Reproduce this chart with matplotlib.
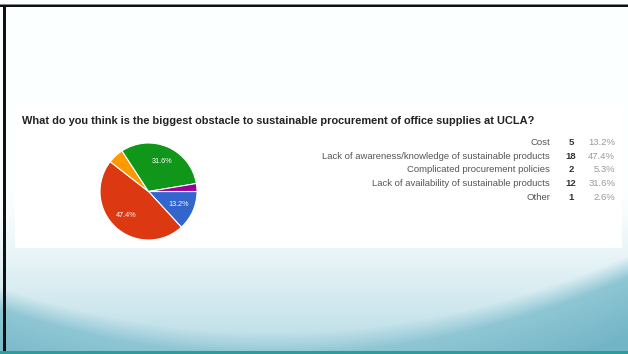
import numpy as np
import matplotlib
matplotlib.use("Agg")
import matplotlib.pyplot as plt
from matplotlib.patches import Rectangle

# ---------------- data ----------------
TITLE = "What do you think is the biggest obstacle to sustainable procurement of office supplies at UCLA?"
categories = [
    "Cost",
    "Lack of awareness/knowledge of sustainable products",
    "Complicated procurement policies",
    "Lack of availability of sustainable products",
    "Other",
]
counts = [5, 18, 2, 12, 1]
percent_labels = ["13.2%", "47.4%", "5.3%", "31.6%", "2.6%"]
colors = ["#3366cc", "#dc3912", "#ff9900", "#109618", "#990099"]

W, H = 628, 354
DPI = 100


def fx(px):
    return px / W


def fy(py):
    return 1 - py / H


fig = plt.figure(figsize=(W / DPI, H / DPI), dpi=DPI)

# ---------------- slide background ----------------
bg = fig.add_axes([0, 0, 1, 1])
bg.set_axis_off()
xx, yy = np.meshgrid(np.arange(W), np.arange(H))

top = np.array([0.992, 1.0, 1.0])
light = np.array([0.70, 0.85, 0.89])
dark_a = np.array([0.58, 0.79, 0.84])
dark_b = np.array([0.45, 0.71, 0.78])

# light part: white at the top, bluish towards the bottom
t = np.clip((yy - 190) / 170.0, 0, 1) ** 1.3
img = top * (1 - t[..., None]) + light * t[..., None]

# darker wave at the bottom
yb = 298 + 0.331 * xx - 6.08e-4 * xx ** 2
m = np.clip((yy - yb) / 22.0 + 0.5, 0, 1)
d = np.clip((yy - yb) / 70.0, 0, 1)
dark = dark_a * (1 - d[..., None]) + dark_b * d[..., None]
img = img * (1 - m[..., None]) + dark * m[..., None]

bg.imshow(img, extent=(0, W, H, 0), aspect="auto", interpolation="bilinear")
bg.set_xlim(0, W)
bg.set_ylim(H, 0)

# frame lines and bottom strip
bg.add_patch(Rectangle((0, 3.5), W, 1, color="#888888", lw=0))
bg.add_patch(Rectangle((0, 4.5), W, 2.5, color="#111111", lw=0))
bg.add_patch(Rectangle((3, 4.5), 3, H, color="#111111", lw=0))
bg.add_patch(Rectangle((0, 351), W, 3, color="#2f9c9c", lw=0))

# white card of the screenshot
bg.add_patch(Rectangle((15, 105), 607, 143, color="white", lw=0))

# ---------------- title ----------------
fig.text(fx(22), fy(124), TITLE, ha="left", va="baseline",
         fontsize=7.93, fontweight="bold", color="#222222",
         family="Liberation Sans")

# ---------------- pie ----------------
cx, cy, r = 148.5, 191.5, 48.5
side = 2.5 * r
ax = fig.add_axes([fx(cx - side / 2), fy(cy + side / 2), side / W, side / H])


def pct_text(p):
    return f"{p:.1f}%" if p >= 10 else ""


wedges, texts, autotexts = ax.pie(
    counts, colors=colors, startangle=0, counterclock=False,
    autopct=pct_text, pctdistance=0.68,
    wedgeprops=dict(edgecolor="white", linewidth=0.8),
    textprops=dict(color="white", fontsize=5.2, family="Liberation Sans"),
)
ax.set_xlim(-1.25, 1.25)
ax.set_ylim(-1.25, 1.25)
ax.set_aspect("equal")
ax.set_axis_off()

# ---------------- table ----------------
row_y = [142.5, 156.3, 170, 183.7, 197.5]
for cat, n, pct, y in zip(categories, counts, percent_labels, row_y):
    fig.text(fx(550), fy(y), cat, ha="right", va="center",
             fontsize=6.8, color="#555555", family="Liberation Sans")
    fig.text(fx(571), fy(y), str(n), ha="center", va="center",
             fontsize=6.8, fontweight="bold", color="#333333",
             family="Liberation Sans")
    fig.text(fx(615), fy(y), pct, ha="right", va="center",
             fontsize=6.8, color="#999999", family="Liberation Sans")

fig.savefig("out.png", dpi=DPI)
